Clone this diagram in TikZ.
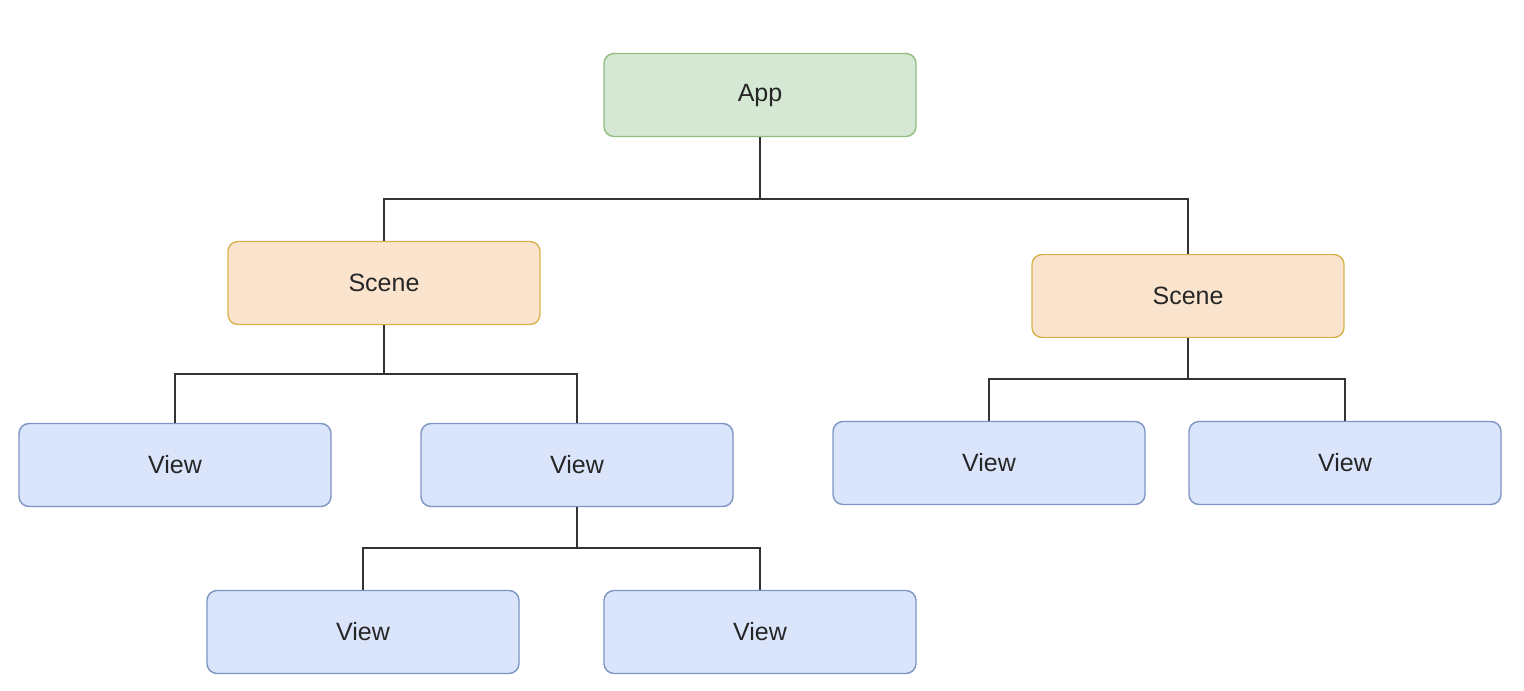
\documentclass[tikz,border=0pt]{standalone}
\usepackage{fontspec}
\setmainfont{Liberation Sans}
\begin{document}
\begin{tikzpicture}[x=0.5pt,y=-0.5pt,
  box/.style={draw, rounded corners=5pt, line width=0.7pt, minimum width=156pt, minimum height=41.5pt, inner sep=0pt, font=\fontsize{12.5}{14}\selectfont, text=black!85},
  appbox/.style={box, fill=appfill, draw=appdraw},
  scenebox/.style={box, fill=scenefill, draw=scenedraw},
  viewbox/.style={box, fill=viewfill, draw=viewdraw},
  link/.style={draw=linecol, line width=1pt}]
\definecolor{appfill}{HTML}{D5E8D4}
\definecolor{appdraw}{HTML}{8FBC7F}
\definecolor{scenefill}{HTML}{FBE4CD}
\definecolor{scenedraw}{HTML}{D9B24F}
\definecolor{viewfill}{HTML}{DAE4FA}
\definecolor{viewdraw}{HTML}{7D95C4}
\definecolor{linecol}{HTML}{333333}
\useasboundingbox (0,0) rectangle (1524,690);
\node[appbox] (app) at (760,95) {App};
\node[scenebox] (sl) at (384,283) {Scene};
\node[scenebox] (sr) at (1188,296) {Scene};
\node[viewbox] (v1) at (175,465) {View};
\node[viewbox] (v2) at (577,465) {View};
\node[viewbox] (v3) at (989,463) {View};
\node[viewbox] (v4) at (1345,463) {View};
\node[viewbox] (v5) at (363,632) {View};
\node[viewbox] (v6) at (760,632) {View};
\coordinate (j1) at (760,199);
\coordinate (j2) at (384,374);
\coordinate (j3) at (1188,379);
\coordinate (j4) at (577,548);
\path[link] (app.south) -- (j1);
\path[link] (sl.north) |- (j1) -| (sr.north);
\path[link] (sl.south) -- (j2);
\path[link] (v1.north) |- (j2) -| (v2.north);
\path[link] (sr.south) -- (j3);
\path[link] (v3.north) |- (j3) -| (v4.north);
\path[link] (v2.south) -- (j4);
\path[link] (v5.north) |- (j4) -| (v6.north);
\end{tikzpicture}
\end{document}
